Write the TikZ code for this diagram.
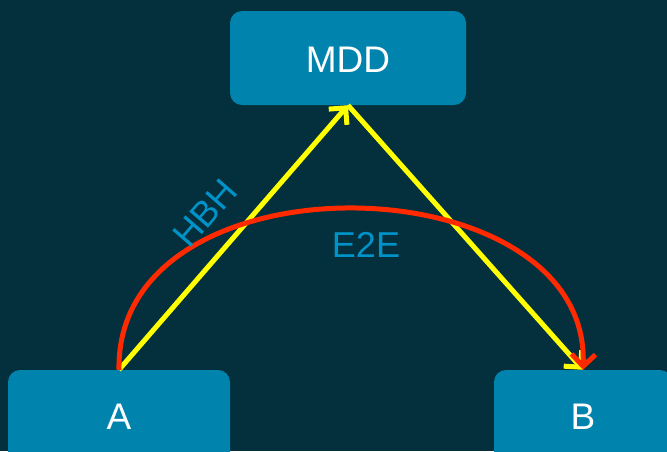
\documentclass[tikz,border=0pt]{standalone}
\usepackage{fontspec}
\setmainfont{Liberation Sans}
\usetikzlibrary{arrows.meta}
\definecolor{bgteal}{HTML}{03303C}
\definecolor{boxblue}{HTML}{0084AD}
\definecolor{labelblue}{HTML}{0093C9}
\definecolor{hopyellow}{HTML}{FFFF00}
\definecolor{e2ered}{HTML}{FF2A00}
\begin{document}
\begin{tikzpicture}[x=1pt,y=-1pt,
  entity/.style={fill=boxblue, rounded corners=12pt, inner sep=0pt,
    text=white, font=\fontsize{37}{40}\selectfont,
    minimum height=94pt, text depth=0pt},
  tag/.style={text=labelblue, font=\fontsize{36}{40}\selectfont, inner sep=0pt},
  hop/.style={draw=hopyellow, line width=5pt,
    -{Straight Barb[length=12pt,width=24pt,line width=5pt]}},
  e2e/.style={draw=e2ered, line width=5pt,
    -{Straight Barb[length=12pt,width=24pt,line width=5pt]}}]
  \fill[bgteal] (0,0) rectangle (667,451);
  \useasboundingbox (0,0) rectangle (667,451);

  \node[entity, minimum width=236pt] (mdd) at (348,58) {\raisebox{-4pt}{MDD}};
  \node[entity, minimum width=222pt] (a) at (119,417) {A};
  \node[entity, minimum width=178pt] (b) at (583,417) {B};

  \draw[hop] (a.north) -- (mdd.south);
  \draw[hop] (mdd.south) -- (b.north);
  \draw[e2e] (a.north) .. controls (115,150) and (590,160) .. (b.north);

  \node[tag, rotate=49] (hbh) at (205,213) {HBH};
  \node[tag] (e2elabel) at (366,245) {E2E};
\end{tikzpicture}
\end{document}
